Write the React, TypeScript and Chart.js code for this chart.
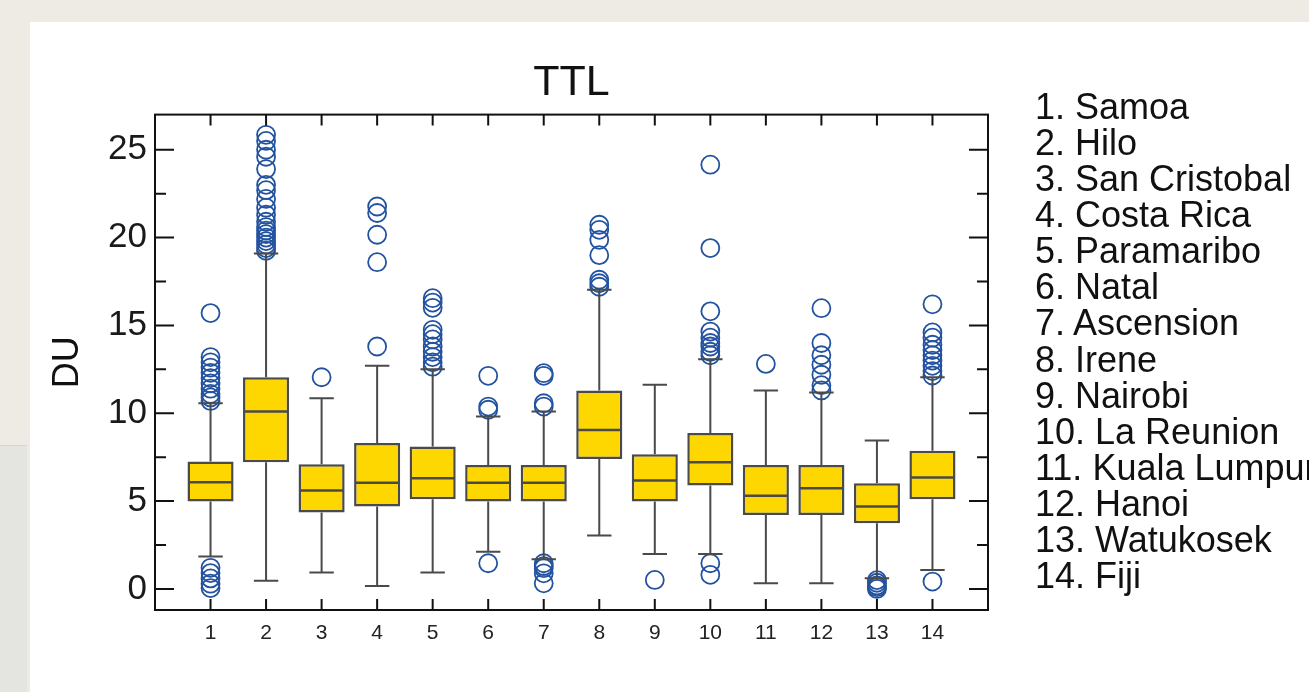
import React, { useEffect, useRef } from 'react';
import { Chart, registerables } from 'chart.js';

Chart.register(...registerables);

const categories = ['1', '2', '3', '4', '5', '6', '7', '8', '9', '10', '11', '12', '13', '14'];
const stationNames = [
  'Samoa', 'Hilo', 'San Cristobal', 'Costa Rica', 'Paramaribo', 'Natal', 'Ascension',
  'Irene', 'Nairobi', 'La Reunion', 'Kuala Lumpur', 'Hanoi', 'Watukosek', 'Fiji',
];
const q1Values = [4.97, 7.21, 4.35, 4.69, 5.1, 4.97, 4.97, 7.4, 4.97, 5.88, 4.21, 4.21, 3.74, 5.1];
const medianValues = [6.07, 10.1, 5.6, 6.05, 6.3, 6.05, 6.05, 9.05, 6.17, 7.21, 5.3, 5.73, 4.69, 6.34];
const q3Values = [7.25, 12.05, 7.1, 8.3, 8.1, 7.06, 7.06, 11.3, 7.67, 8.87, 7.06, 7.06, 6.02, 7.86];
const whiskerLow = [1.84, 0.47, 0.93, 0.17, 0.93, 2.12, 1.69, 3.04, 1.99, 1.99, 0.32, 0.32, 0.61, 1.08];
const whiskerHigh = [10.57, 19.1, 10.86, 12.7, 12.5, 9.81, 10.1, 17.03, 11.62, 13.08, 11.3, 11.18, 8.45, 12.05];
const outliers: number[][] = [
  [15.7, 13.2, 12.9, 12.6, 12.3, 12.0, 11.7, 11.4, 11.1, 10.9, 10.7, 1.2, 0.9, 0.6, 0.3, 0.05],
  [25.85, 25.5, 25.0, 24.6, 23.9, 23.0, 22.7, 22.2, 21.7, 21.3, 20.9, 20.6, 20.4, 20.2, 20.0, 19.8, 19.6, 19.4, 19.25],
  [12.05],
  [21.77, 21.4, 20.16, 18.6, 13.8],
  [16.55, 16.3, 16.0, 14.75, 14.5, 14.2, 13.8, 13.5, 13.2, 12.9, 12.65],
  [12.13, 10.38, 10.2, 1.46],
  [12.28, 12.13, 10.57, 10.38, 1.46, 1.3, 1.18, 0.89, 0.32],
  [20.73, 20.44, 19.87, 19.0, 17.6, 17.4, 17.2],
  [0.51],
  [24.15, 19.4, 15.8, 14.65, 14.3, 14.0, 13.8, 13.5, 13.3, 1.46, 0.8],
  [12.81],
  [15.98, 14.0, 13.3, 12.76, 12.19, 11.6, 11.3],
  [0.5, 0.35, 0.2, 0.1, 0.0],
  [16.2, 14.6, 14.3, 13.9, 13.6, 13.3, 13.0, 12.7, 12.4, 12.15, 0.42],
];
const yTickValues = [0, 5, 10, 15, 20, 25];
const yMinorTickValues = [2.5, 7.5, 12.5, 17.5, 22.5];
const chartTitle = 'TTL';
const yAxisTitle = 'DU';

const FONT = '"Liberation Sans", Arial, Helvetica, sans-serif';

export default function App() {
  const canvasRef = useRef<HTMLCanvasElement>(null);

  useEffect(() => {
    const canvas = canvasRef.current;
    if (!canvas) return;
    const positions = categories.map((_, i) => i + 1);
    const boxData = positions.map((x, i) => ({ x, y: [q1Values[i], q3Values[i]] }));
    const outlierData = outliers.flatMap((arr, i) => arr.map((v) => ({ x: positions[i], y: v })));

    const boxPlugin = {
      id: 'boxWhiskers',
      afterDatasetDraw(chart: any, args: any) {
        if (args.index !== 0) return;
        const { ctx } = chart;
        const xs = chart.scales.x;
        const ys = chart.scales.y;
        const meta = chart.getDatasetMeta(0);
        ctx.save();
        ctx.strokeStyle = '#4a4a4a';
        ctx.lineWidth = 2;
        meta.data.forEach((bar: any, i: number) => {
          const px = xs.getPixelForValue(positions[i]);
          const half = bar.width / 2;
          const capHalf = half * 0.53;
          const yq1 = ys.getPixelForValue(q1Values[i]);
          const yq3 = ys.getPixelForValue(q3Values[i]);
          const ylo = ys.getPixelForValue(whiskerLow[i]);
          const yhi = ys.getPixelForValue(whiskerHigh[i]);
          const ymed = ys.getPixelForValue(medianValues[i]);
          ctx.beginPath();
          ctx.moveTo(px, yq3);
          ctx.lineTo(px, yhi);
          ctx.moveTo(px - capHalf, yhi);
          ctx.lineTo(px + capHalf, yhi);
          ctx.moveTo(px, yq1);
          ctx.lineTo(px, ylo);
          ctx.moveTo(px - capHalf, ylo);
          ctx.lineTo(px + capHalf, ylo);
          ctx.stroke();
          ctx.beginPath();
          ctx.lineWidth = 2.5;
          ctx.moveTo(px - half + 1, ymed);
          ctx.lineTo(px + half - 1, ymed);
          ctx.stroke();
          ctx.lineWidth = 2;
        });
        ctx.restore();
      },
    };

    const framePlugin = {
      id: 'frameTicks',
      afterDraw(chart: any) {
        const { ctx, chartArea } = chart;
        const { left, right, top, bottom } = chartArea;
        const xs = chart.scales.x;
        const ys = chart.scales.y;
        ctx.save();
        ctx.strokeStyle = '#111';
        ctx.lineWidth = 2;
        ctx.beginPath();
        ys.ticks.forEach((t: any) => {
          const py = ys.getPixelForValue(t.value);
          ctx.moveTo(left, py);
          ctx.lineTo(left + 19, py);
          ctx.moveTo(right, py);
          ctx.lineTo(right - 19, py);
        });
        yMinorTickValues.forEach((v) => {
          const py = ys.getPixelForValue(v);
          ctx.moveTo(left, py);
          ctx.lineTo(left + 11, py);
          ctx.moveTo(right, py);
          ctx.lineTo(right - 11, py);
        });
        xs.ticks.forEach((t: any) => {
          const px = xs.getPixelForValue(t.value);
          ctx.moveTo(px, top);
          ctx.lineTo(px, top + 11);
          ctx.moveTo(px, bottom);
          ctx.lineTo(px, bottom - 11);
        });
        ctx.stroke();
        ctx.strokeRect(left, top, right - left, bottom - top);
        ctx.restore();
      },
    };

    const chart = new Chart(canvas, {
      type: 'bar',
      data: {
        datasets: [
          {
            type: 'bar',
            data: boxData as any,
            backgroundColor: '#FFD700',
            borderColor: '#4a4a4a',
            borderWidth: 2.5,
            borderSkipped: false,
            barPercentage: 0.83,
            categoryPercentage: 1,
          } as any,
          {
            type: 'scatter',
            data: outlierData as any,
            pointStyle: 'circle',
            pointRadius: 9,
            pointHoverRadius: 9,
            borderWidth: 1.8,
            borderColor: '#2353a0',
            backgroundColor: 'rgba(0,0,0,0)',
          } as any,
        ],
      },
      options: {
        animation: false,
        responsive: false,
        devicePixelRatio: 1,
        events: [],
        layout: { padding: { left: 0, right: 321, top: 0, bottom: 0 } },
        plugins: {
          legend: { display: false },
          tooltip: { enabled: false },
          title: {
            display: true,
            text: chartTitle,
            fullSize: false,
            color: '#111',
            font: { family: FONT, size: 43, weight: 'normal' },
            padding: { top: 57, bottom: 6 },
          },
        },
        scales: {
          x: {
            type: 'linear',
            min: 0,
            max: 15,
            offset: false,
            grid: { display: false, drawTicks: false },
            border: { display: false },
            afterBuildTicks: (scale: any) => {
              scale.ticks = positions.map((v) => ({ value: v }));
            },
            afterFit: (scale: any) => {
              scale.height = 82;
            },
            ticks: {
              padding: 11,
              color: '#222',
              font: { family: FONT, size: 21 },
              maxRotation: 0,
              autoSkip: false,
              callback: (_v: any, index: number) => categories[index],
            },
          },
          y: {
            type: 'linear',
            min: -1.2,
            max: 27,
            grid: { display: false, drawTicks: false },
            border: { display: false },
            afterBuildTicks: (scale: any) => {
              scale.ticks = yTickValues.map((v) => ({ value: v }));
            },
            afterFit: (scale: any) => {
              scale.width = 155;
            },
            ticks: {
              padding: 8,
              color: '#1a1a1a',
              font: { family: FONT, size: 35 },
              callback: (v: any) => String(v),
            },
            title: {
              display: true,
              text: yAxisTitle,
              color: '#111',
              font: { family: FONT, size: 36 },
              padding: { top: 46, bottom: 0 },
            },
          },
        },
      },
      plugins: [boxPlugin, framePlugin],
    } as any);

    return () => {
      chart.destroy();
    };
  }, []);

  return (
    <div
      style={{
        position: 'fixed',
        left: 0,
        top: 0,
        width: 1309,
        height: 692,
        overflow: 'hidden',
        background: '#eeebe5',
      }}
    >
      <div
        style={{
          position: 'absolute',
          left: 0,
          top: 445,
          width: 27,
          height: 247,
          background: '#e4e4e0',
          borderTop: '1px solid #d6d6d1',
        }}
      />
      <div
        style={{
          position: 'absolute',
          left: 30,
          top: 22,
          width: 1279,
          height: 670,
          background: '#ffffff',
        }}
      />
      <canvas
        ref={canvasRef}
        width={1309}
        height={692}
        style={{ position: 'absolute', left: 0, top: 0, width: 1309, height: 692 }}
      />
      <div
        style={{
          position: 'absolute',
          left: 1035,
          top: 89,
          fontFamily: FONT,
          fontSize: 36,
          lineHeight: '36.08px',
          color: '#111',
          whiteSpace: 'nowrap',
        }}
      >
        {stationNames.map((name, i) => (
          <div key={name}>{`${categories[i]}. ${name}`}</div>
        ))}
      </div>
    </div>
  );
}
